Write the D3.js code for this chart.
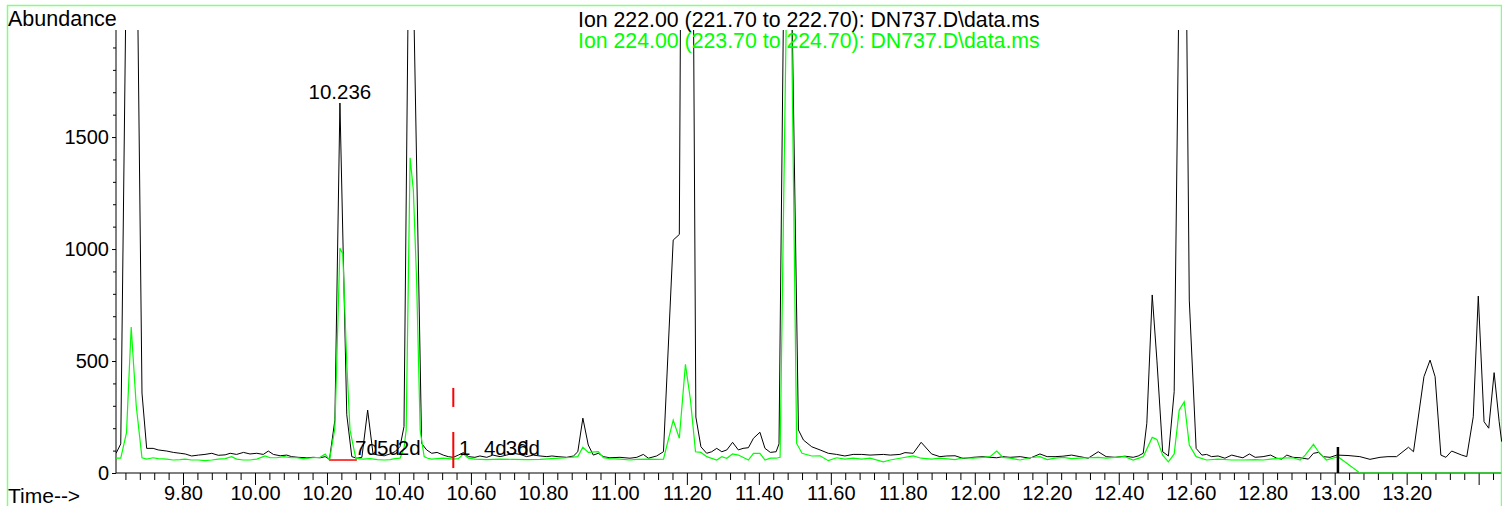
<!DOCTYPE html>
<html><head><meta charset="utf-8">
<script src="https://cdn.jsdelivr.net/npm/d3@7"></script>
<style>
html,body{margin:0;padding:0;background:#fff;}
svg{display:block;}
text{font-family:"Liberation Sans",Arial,sans-serif;}
</style></head><body>
<svg id="chart" width="1502" height="506"></svg>
<script>
// ---- data (retention time in min, abundance) ----
const ion222Times = [9.614,9.627,9.658,9.686,9.699,9.717,9.731,9.755,9.773,9.792,9.806,9.824,9.843,9.861,9.880,9.898,9.917,9.931,9.949,9.968,9.986,10.005,10.023,10.037,10.051,10.070,10.088,10.102,10.120,10.144,10.162,10.181,10.195,10.207,10.222,10.236,10.255,10.269,10.283,10.297,10.313,10.328,10.342,10.359,10.375,10.389,10.403,10.414,10.431,10.463,10.477,10.491,10.506,10.523,10.537,10.551,10.565,10.579,10.593,10.611,10.625,10.644,10.661,10.681,10.699,10.718,10.736,10.755,10.773,10.792,10.811,10.825,10.842,10.866,10.885,10.897,10.911,10.926,10.940,10.954,10.968,10.986,11.014,11.042,11.061,11.079,11.093,11.116,11.135,11.162,11.179,11.192,11.206,11.225,11.239,11.255,11.269,11.283,11.297,11.311,11.327,11.343,11.356,11.371,11.385,11.403,11.417,11.432,11.448,11.456,11.478,11.510,11.524,11.547,11.570,11.593,11.616,11.639,11.662,11.686,11.709,11.746,11.765,11.792,11.806,11.829,11.851,11.880,11.903,11.922,11.945,11.968,11.995,12.023,12.042,12.061,12.078,12.098,12.126,12.153,12.181,12.201,12.223,12.245,12.269,12.292,12.315,12.343,12.365,12.390,12.417,12.440,12.454,12.468,12.478,12.493,12.506,12.522,12.538,12.554,12.579,12.596,12.615,12.631,12.644,12.658,12.676,12.695,12.714,12.731,12.745,12.763,12.779,12.801,12.822,12.839,12.853,12.867,12.884,12.904,12.927,12.941,12.955,12.968,12.987,13.006,13.037,13.070,13.098,13.126,13.148,13.172,13.205,13.219,13.248,13.265,13.279,13.295,13.309,13.325,13.353,13.367,13.385,13.399,13.415,13.428,13.443,13.457,13.464];
const ion222Values = [88,130,4450,357,110,110,103,98,92,88,85,76,80,83,88,79,81,88,83,92,85,88,83,98,83,77,80,73,70,68,70,68,73,61,237,1652,260,73,66,70,281,85,80,77,85,95,118,207,3000,132,103,88,92,80,73,70,80,91,73,70,76,70,80,73,80,88,83,73,80,76,73,76,73,70,76,95,245,125,80,88,73,68,70,66,70,83,66,76,95,1040,1065,5000,5500,250,117,88,95,110,95,103,137,103,110,113,155,182,110,92,95,130,3570,192,147,117,103,88,83,76,83,83,80,83,80,83,91,88,137,85,73,76,77,65,70,73,70,68,73,70,73,66,85,73,73,75,80,73,66,95,73,70,75,70,76,88,222,795,504,95,76,363,3750,772,110,80,83,73,76,66,80,73,68,85,70,73,80,66,62,80,70,68,62,88,92,73,70,80,78,73,61,70,73,73,115,95,430,504,430,80,70,98,80,73,251,790,229,200,448,229,140];

const ion224Times = [9.614,9.627,9.643,9.656,9.670,9.686,9.699,9.717,9.731,9.755,9.773,9.792,9.806,9.824,9.843,9.861,9.880,9.898,9.917,9.935,9.949,9.968,9.986,10.005,10.028,10.042,10.060,10.080,10.100,10.115,10.135,10.160,10.181,10.195,10.207,10.222,10.236,10.244,10.255,10.264,10.280,10.300,10.320,10.340,10.360,10.375,10.389,10.403,10.414,10.420,10.431,10.440,10.449,10.459,10.470,10.480,10.491,10.506,10.523,10.551,10.565,10.579,10.593,10.611,10.644,10.681,10.718,10.755,10.792,10.825,10.866,10.897,10.911,10.926,10.954,10.968,10.986,11.014,11.042,11.061,11.093,11.116,11.135,11.162,11.179,11.196,11.210,11.224,11.239,11.255,11.283,11.297,11.311,11.327,11.343,11.371,11.385,11.403,11.417,11.432,11.448,11.459,11.484,11.505,11.520,11.547,11.570,11.593,11.616,11.639,11.662,11.686,11.709,11.746,11.765,11.792,11.829,11.851,11.880,11.903,11.945,11.968,11.995,12.023,12.042,12.061,12.078,12.098,12.126,12.153,12.181,12.201,12.223,12.245,12.269,12.292,12.315,12.343,12.365,12.390,12.417,12.440,12.468,12.493,12.506,12.522,12.538,12.554,12.568,12.582,12.596,12.615,12.644,12.676,12.714,12.745,12.779,12.801,12.822,12.853,12.884,12.904,12.918,12.941,12.955,12.977,13.009,13.070,13.464];
const ion224Values = [66,66,180,652,300,68,62,68,64,62,58,60,62,58,58,55,58,62,64,73,62,58,58,62,76,68,68,73,68,68,64,68,70,85,58,200,1004,978,490,192,66,62,64,60,58,60,64,66,110,192,1407,1263,862,190,73,66,62,64,66,62,64,85,66,62,60,62,61,60,61,64,68,73,115,92,95,68,64,62,58,61,62,61,62,236,155,485,326,95,92,73,58,73,66,85,80,58,88,88,58,66,66,70,2930,132,88,76,77,55,68,62,66,62,66,50,58,66,76,66,62,66,60,68,66,70,73,98,70,66,58,68,73,60,66,70,64,66,68,70,66,70,73,58,73,159,150,80,50,85,281,318,125,73,58,62,58,58,60,58,62,66,68,58,80,128,95,58,73,0,0];

const xMajorTicks = [9.80,10.00,10.20,10.40,10.60,10.80,11.00,11.20,11.40,11.60,11.80,12.00,12.20,12.40,12.60,12.80,13.00,13.20,13.40];
const xTickLabels = ["9.80","10.00","10.20","10.40","10.60","10.80","11.00","11.20","11.40","11.60","11.80","12.00","12.20","12.40","12.60","12.80","13.00","13.20",""];
const yMajorTicks = [0,500,1000,1500];
const yTickLabels = ["0","500","1000","1500"];

const peakApexLabel = {text:"10.236", t:10.236, v:1652};
const integrationLabels = ["7d","5d","2d","1","4d","3d","6d"];
const integrationLabelTimes = [10.278,10.339,10.397,10.567,10.636,10.697,10.728];
const integrationLabelLevel = 80;
const integrationBaseline = [[10.207,58],[10.283,58]];
const splitMarkerTime = 10.551;
const splitMarkerSegments = [[380,295],[183,22]];
const eventMarkerTime = 13.009;
const eventMarkerRange = [116,0];

const legendLines = ["Ion 222.00 (221.70 to 222.70): DN737.D\\data.ms","Ion 224.00 (223.70 to 224.70): DN737.D\\data.ms"];
const seriesColors = ["#000000","#00ff00"];

(function draw(){
const svg = d3.select("#chart");
const pLeft = 116, pRight = 1501, pTop = 30, pBottom = 473;
const x = d3.scaleLinear().domain([9.6138, 13.4621]).range([pLeft, pRight]);
const y = d3.scaleLinear().domain([0, 1978]).range([pBottom, pTop]);
const fontFam = "Liberation Sans, Arial, sans-serif";

svg.append("rect").attr("x",7.5).attr("y",5.5).attr("width",1494).attr("height",520)
  .attr("fill","none").attr("stroke","#80ff80").attr("stroke-width",1.5);

svg.append("defs").append("clipPath").attr("id","plotclip")
  .append("rect").attr("x",pLeft).attr("y",pTop).attr("width",pRight-pLeft+2).attr("height",pBottom-pTop+6);

// x axis
const xMinor = d3.range(9.64, 13.46, 0.04).filter(v => Math.abs(v*5 - Math.round(v*5)) > 1e-6);
const gx = svg.append("g").attr("transform",`translate(0,${pBottom})`);
gx.append("line").attr("x1",pLeft).attr("x2",pRight).attr("y1",0).attr("y2",0).attr("stroke","#000");
gx.append("g").call(d3.axisBottom(x).tickValues(xMinor).tickSize(7).tickFormat("")).call(a => a.select(".domain").remove());
gx.append("g").call(d3.axisBottom(x).tickValues(xMajorTicks).tickSize(12).tickFormat((d,i) => xTickLabels[i]))
  .call(a => a.select(".domain").remove());
gx.selectAll("text").attr("font-size",20).attr("fill","#000").attr("font-family",fontFam).attr("y",27).attr("dy",0);
gx.selectAll("line").attr("stroke","#000");

// y axis
const yMinor = d3.range(100, 2000, 100).filter(v => v % 500 !== 0);
const gy = svg.append("g").attr("transform",`translate(${pLeft},0)`);
gy.append("line").attr("x1",0).attr("x2",0).attr("y1",pTop).attr("y2",pBottom).attr("stroke","#000");
gy.append("g").call(d3.axisLeft(y).tickValues(yMinor).tickSize(3).tickFormat("")).call(a=>a.select(".domain").remove());
gy.append("g").call(d3.axisLeft(y).tickValues(yMajorTicks).tickSize(4).tickPadding(3)
  .tickFormat((d,i)=>yTickLabels[i])).call(a=>a.select(".domain").remove());
gy.selectAll("text").attr("font-size",20).attr("fill","#000").attr("font-family",fontFam);
gy.selectAll("line").attr("stroke","#000");

// traces
const plot = svg.append("g").attr("clip-path","url(#plotclip)");
const line = d3.line().x(d=>x(d[0])).y(d=>y(d[1]));
const s1 = ion222Times.map((t,i)=>[t, ion222Values[i]]);
const s2 = ion224Times.map((t,i)=>[t, ion224Values[i]]);
plot.append("path").datum(s1).attr("d",line).attr("fill","none").attr("stroke",seriesColors[0]).attr("stroke-width",1);
plot.append("path").datum(s2).attr("d",line).attr("fill","none").attr("stroke",seriesColors[1]).attr("stroke-width",1.2);

// integration markers
svg.append("path").datum(integrationBaseline).attr("d",line).attr("fill","none").attr("stroke","#ff0000").attr("stroke-width",1.5);
splitMarkerSegments.forEach(s => {
  svg.append("line").attr("x1",x(splitMarkerTime)).attr("x2",x(splitMarkerTime))
    .attr("y1",y(s[0])).attr("y2",y(s[1])).attr("stroke","#ff0000").attr("stroke-width",2);
});
svg.append("line").attr("x1",x(eventMarkerTime)).attr("x2",x(eventMarkerTime))
  .attr("y1",y(eventMarkerRange[0])).attr("y2",y(eventMarkerRange[1])).attr("stroke","#000").attr("stroke-width",2.5);

// texts
svg.append("text").attr("x",x(peakApexLabel.t)).attr("y",y(peakApexLabel.v)-4.5).attr("text-anchor","middle")
  .attr("font-size",20.5).attr("font-family",fontFam).text(peakApexLabel.text);
integrationLabels.forEach((s,i)=>{
  svg.append("text").attr("x",x(integrationLabelTimes[i])).attr("y",y(integrationLabelLevel))
    .attr("font-size",20.5).attr("font-family",fontFam).text(s);
});
svg.append("text").attr("x",8).attr("y",26).attr("font-size",21.5).attr("font-family",fontFam).text("Abundance");
svg.append("text").attr("x",8).attr("y",503).attr("font-size",21).attr("font-family",fontFam).text("Time-->");
legendLines.forEach((s,i)=>{
  svg.append("text").attr("x",578).attr("y",26.5+21*i).attr("font-size",21.3).attr("font-family",fontFam)
    .attr("fill",seriesColors[i]).text(s);
});
})();
</script>
</body></html>
